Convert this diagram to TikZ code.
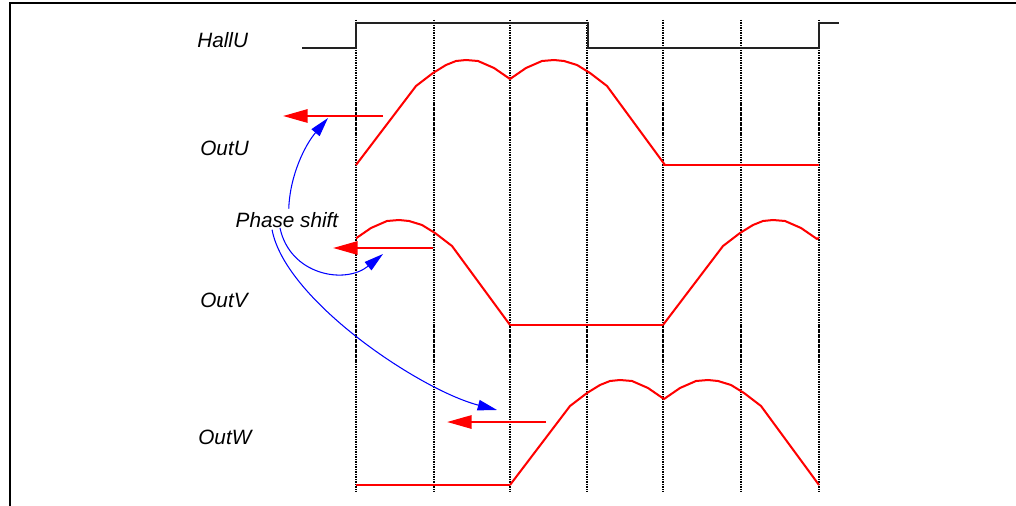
\documentclass[tikz,border=0pt]{standalone}
\usepackage{fontspec}
\setmainfont{Liberation Sans}
\usepackage{xcolor}
\usepackage{tikz}
\usetikzlibrary{arrows.meta}
\definecolor{sigR}{HTML}{FF0000}
\definecolor{shiftB}{HTML}{0000FF}
\definecolor{hallK}{HTML}{222222}

\begin{document}
\begin{tikzpicture}[x=0.02cm, y=-0.02cm,
    lbl/.style={font=\fontsize{11.8}{14}\selectfont\itshape, inner sep=0pt, anchor=west},
    slot/.style={black, line width=0.6pt, dash pattern=on 0.6pt off 0.35pt},
    wave/.style={sigR, line width=1.15pt, line join=round},
    outarr/.style={sigR, line width=1.3pt, -{Triangle[length=14pt, width=7.5pt]}},
    shiftarr/.style={shiftB, line width=0.6pt, -{Triangle[length=11pt, width=6pt]}},
    pics/hump/.style={code={
      % one positive half wave: rise, double hump, fall (dx px, height px)
      \draw[wave] plot coordinates {(0,0) (60,-79) (77,-92) (90,-100) (100,-104)
        (110,-105) (122,-104) (138,-97) (154,-86) (170,-97) (186,-104) (198,-105)
        (208,-104) (221,-100) (234,-92) (251,-79) (309,0)};
    }}]
  \useasboundingbox (0,0) rectangle (1016,506);
  % frame
  \draw[line width=1.3pt] (10,506) -- (10,3) -- (1016,3);
  % commutation slots
  \foreach \x in {356,434,510,587,663,741,819}
    \draw[slot] (\x,20) -- (\x,492);
  % hall signal
  \draw[hallK, line width=0.8pt] (302,48) -- (356,48) -- (356,23) -- (588,23)
    -- (588,48) -- (819,48) -- (819,23) -- (839,23);
  % labels
  \foreach \nm/\xx/\yy in {HallU/197/40, OutU/200/148, OutV/200/300, OutW/198/437}
    \node[lbl] (\nm) at (\xx,\yy) {\nm};
  \node[lbl, anchor=center] (phase) at (287,220) {Phase shift};
  % output phases
  \pic at (356,165) {hump};
  \draw[wave] (663,165) -- (819,165);
  \begin{scope}
    \clip (356,0) rectangle (819,506);
    \pic at (201,325) {hump};
    \pic at (663,325) {hump};
  \end{scope}
  \draw[wave] (510,325) -- (663,325);
  \draw[wave] (356,485) -- (510,485);
  \pic at (510,485) {hump};
  % red shift arrows
  \foreach \nm/\xa/\xb/\yy in {U/383/283/116, V/433/333/248, W/546/447/422}{
    \coordinate (a\nm s) at (\xa,\yy);
    \coordinate (a\nm e) at (\xb,\yy);
    \draw[outarr] (a\nm s) -- (a\nm e);
  }
  % blue pointers
  \coordinate (pU) at (328,118);
  \coordinate (pV) at (383,254);
  \coordinate (pW) at (497,410);
  \draw[shiftarr] ([xshift=1pt, yshift=2pt]phase.north) .. controls (290,175) and (305,145) .. (pU);
  \draw[shiftarr] ([xshift=-4pt]phase.south) .. controls (290,275) and (345,285) .. (pV);
  \draw[shiftarr] ([xshift=-8.5pt, yshift=-1pt]phase.south) .. controls (285,300) and (420,390) .. (pW);
\end{tikzpicture}
\end{document}
